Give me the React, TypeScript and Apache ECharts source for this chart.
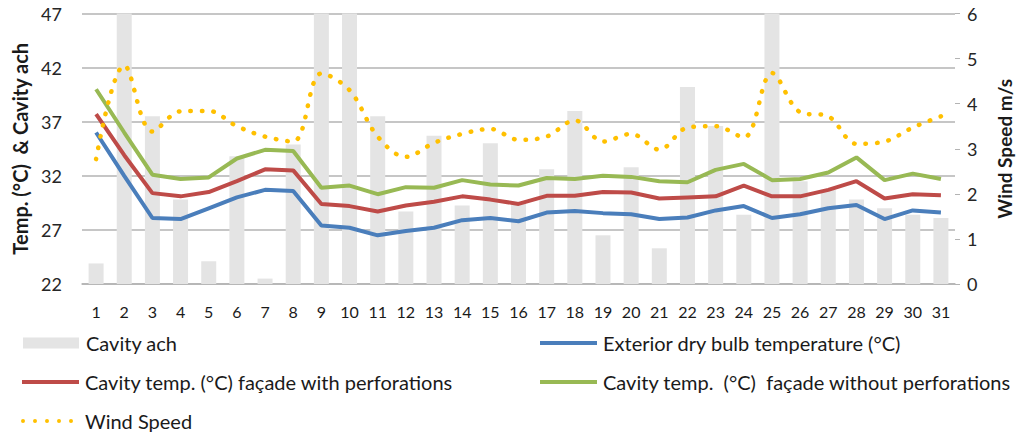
import React, { useEffect, useRef } from "react";
import * as echarts from "echarts";

const days = ["1","2","3","4","5","6","7","8","9","10","11","12","13","14","15","16","17","18","19","20","21","22","23","24","25","26","27","28","29","30","31"];
const cavityAch = [23.9, 50, 37.5, 29.8, 24.1, 33.8, 22.5, 34.9, 50, 50, 37.5, 28.7, 35.7, 29.25, 35.0, 29.5, 32.6, 38.0, 26.5, 32.8, 25.3, 40.2, 36.6, 28.4, 50, 31.5, 30.7, 29.8, 29.0, 28.4, 28.1];
const exteriorTemp = [36.0, 32.0, 28.1, 28.0, 29.0, 30.0, 30.7, 30.6, 27.4, 27.2, 26.5, 26.9, 27.2, 27.9, 28.1, 27.8, 28.6, 28.75, 28.55, 28.45, 28.0, 28.15, 28.8, 29.2, 28.1, 28.45, 29.0, 29.3, 28.0, 28.8, 28.6];
const cavityWithPerf = [37.7, 33.9, 30.4, 30.1, 30.5, 31.5, 32.6, 32.5, 29.4, 29.2, 28.7, 29.25, 29.6, 30.1, 29.8, 29.4, 30.15, 30.15, 30.5, 30.45, 29.9, 30.0, 30.1, 31.1, 30.1, 30.1, 30.7, 31.5, 29.9, 30.3, 30.2];
const cavityWithoutPerf = [40.0, 36.0, 32.1, 31.7, 31.85, 33.6, 34.4, 34.3, 30.9, 31.1, 30.3, 30.95, 30.9, 31.6, 31.2, 31.1, 31.8, 31.7, 32.0, 31.9, 31.5, 31.4, 32.55, 33.1, 31.6, 31.7, 32.3, 33.7, 31.6, 32.2, 31.7];
const windSpeed = [2.77, 4.85, 3.38, 3.83, 3.84, 3.5, 3.27, 3.16, 4.67, 4.3, 3.27, 2.82, 3.13, 3.33, 3.44, 3.2, 3.27, 3.63, 3.16, 3.33, 2.98, 3.47, 3.5, 3.25, 4.68, 3.81, 3.72, 3.11, 3.16, 3.47, 3.72];

const FONT = "Lato, 'Open Sans', sans-serif";

const circle = (cx: number) => `M${cx - 2},2a2,2 0 1,0 4,0a2,2 0 1,0 -4,0z`;
const DOTS_ICON = "path://" + [2, 14, 26, 38, 50].map(circle).join("");

export default function App() {
  const ref = useRef<HTMLDivElement>(null);
  useEffect(() => {
    if (!ref.current) return;
    const chart = echarts.init(ref.current, null, { renderer: "svg" });
    const mkLegend = (
      name: string,
      left: number,
      centerY: number,
      icon: string,
      w: number,
      h: number,
      padLeft: number
    ) => ({
      data: [name],
      left,
      top: centerY - 12,
      itemWidth: w,
      itemHeight: h,
      itemGap: 0,
      padding: 0,
      icon,
      textStyle: {
        fontFamily: FONT,
        fontSize: 20,
        color: "#1a1a1a",
        padding: [0, 0, 0, padLeft],
        lineHeight: 24,
      },
    });
    chart.setOption({
      animation: false,
      backgroundColor: "#ffffff",
      grid: { left: 82, right: 72, top: 13.5, bottom: 150, containLabel: false },
      legend: [
        mkLegend("Cavity ach", 23, 343, "rect", 56, 11, 2),
        mkLegend("Exterior dry bulb temperature (°C)", 540, 343, "rect", 57, 4, 1),
        mkLegend("Cavity temp. (°C) façade with perforations", 22, 382, "rect", 57, 4, 1),
        mkLegend("Cavity temp.  (°C)  façade without perforations", 540, 382, "rect", 57, 4, 1),
        mkLegend("Wind Speed", 21, 421, DOTS_ICON, 52, 4, 7),
      ],
      xAxis: {
        type: "category",
        data: days,
        boundaryGap: true,
        axisLine: { show: true, lineStyle: { color: "#B3B3B3", width: 1.5 } },
        axisTick: { show: false },
        axisLabel: { fontFamily: FONT, fontSize: 16, color: "#1a1a1a", margin: 19, interval: 0 },
      },
      yAxis: [
        {
          type: "value",
          min: 22,
          max: 47,
          interval: 5,
          name: "Temp. (°C)  & Cavity ach",
          nameLocation: "middle",
          nameRotate: 90,
          nameGap: 51,
          nameTextStyle: { fontFamily: FONT, fontSize: 20, fontWeight: "bold", color: "#1a1a1a" },
          axisLine: { show: false },
          axisTick: { show: false },
          axisLabel: { fontFamily: FONT, fontSize: 18, color: "#262626", margin: 20 },
          splitLine: { show: true, lineStyle: { color: "#B3B3B3", width: 1.5 } },
        },
        {
          type: "value",
          min: 0,
          max: 6,
          interval: 1,
          position: "right",
          name: "Wind Speed m/s",
          nameLocation: "middle",
          nameRotate: 90,
          nameGap: 40,
          nameTextStyle: { fontFamily: FONT, fontSize: 19, fontWeight: "bold", color: "#1a1a1a" },
          axisLine: { show: false },
          axisTick: { show: true, inside: false, length: 5, lineStyle: { color: "#B3B3B3" } },
          axisLabel: { fontFamily: FONT, fontSize: 18, color: "#262626", margin: 12 },
          splitLine: { show: false },
        },
      ],
      series: [
        {
          name: "Cavity ach",
          type: "bar",
          yAxisIndex: 0,
          data: cavityAch,
          barWidth: 15,
          clip: true,
          itemStyle: { color: "#E4E4E4" },
          z: 1,
        },
        {
          name: "Exterior dry bulb temperature (°C)",
          type: "line",
          yAxisIndex: 0,
          data: exteriorTemp,
          symbol: "none",
          lineStyle: { color: "#4A7EBB", width: 4 },
          itemStyle: { color: "#4A7EBB" },
          z: 3,
        },
        {
          name: "Cavity temp. (°C) façade with perforations",
          type: "line",
          yAxisIndex: 0,
          data: cavityWithPerf,
          symbol: "none",
          lineStyle: { color: "#BE4B48", width: 4 },
          itemStyle: { color: "#BE4B48" },
          z: 3,
        },
        {
          name: "Cavity temp.  (°C)  façade without perforations",
          type: "line",
          yAxisIndex: 0,
          data: cavityWithoutPerf,
          symbol: "none",
          lineStyle: { color: "#98B954", width: 4 },
          itemStyle: { color: "#98B954" },
          z: 3,
        },
        {
          name: "Wind Speed",
          type: "line",
          yAxisIndex: 1,
          data: windSpeed,
          symbol: "none",
          smooth: 0.35,
          lineStyle: { color: "#FFC000", width: 4.5, type: [0.5, 11], cap: "round" },
          itemStyle: { color: "#FFC000" },
          z: 4,
        },
      ],
    });
    return () => chart.dispose();
  }, []);
  return (
    <div
      ref={ref}
      style={{ position: "absolute", left: 0, top: 0, width: 1027, height: 434 }}
    />
  );
}
